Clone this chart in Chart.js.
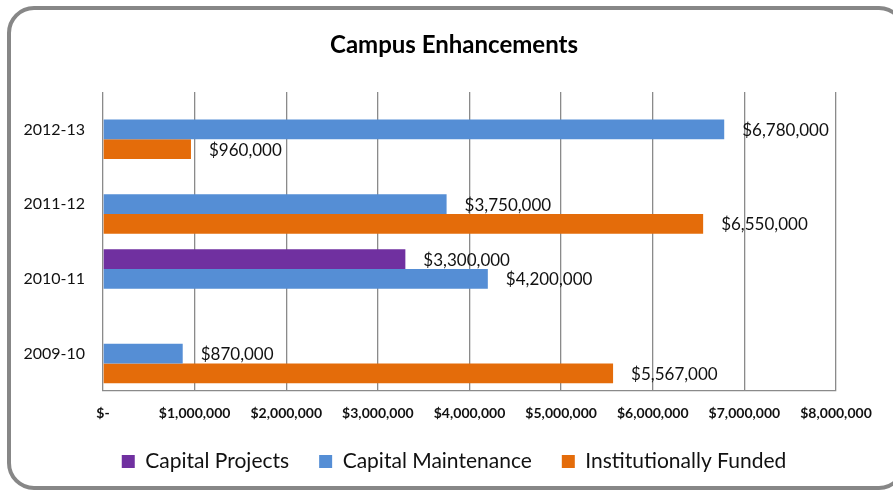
<!DOCTYPE html>
<html>
<head>
<meta charset="utf-8">
<title>Campus Enhancements</title>
<script src="https://cdn.jsdelivr.net/npm/chart.js@4/dist/chart.umd.min.js"></script>
<style>
  html, body { margin: 0; padding: 0; background: #fff; overflow: hidden; }
  #wrap { position: absolute; left: 0; top: 0; width: 910px; height: 495px; }
</style>
</head>
<body>
<div id="wrap"><canvas id="chart"></canvas></div>
<script>
// Funding by academic year
const years = ['2012-13', '2011-12', '2010-11', '2009-10'];
const capitalProjects = [null, null, 3300000, null];
const capitalMaintenance = [6780000, 3750000, 4200000, 870000];
const institutionallyFunded = [960000, 6550000, null, 5567000];

const axisMin = 0;
const axisMax = 8000000;
const axisStep = 1000000;

const FONT = 'Lato, "Open Sans", sans-serif';
const GRID = '#8a8a8a';

function money(v) {
    return v === 0 ? '$-' : '$' + v.toLocaleString('en-US');
}

// Rounded frame around the whole chart
const framePlugin = {
    id: 'frame',
    beforeDraw(chart) {
        const ctx = chart.ctx;
        ctx.save();
        ctx.strokeStyle = '#878787';
        ctx.lineWidth = 4;
        ctx.beginPath();
        ctx.roundRect(9, 8, 895, 480, 25);
        ctx.stroke();
        ctx.restore();
    }
};

// Value labels just past the end of each bar
const valueLabels = {
    id: 'valueLabels',
    afterDatasetsDraw(chart) {
        const ctx = chart.ctx;
        ctx.save();
        ctx.font = '17px ' + FONT;
        ctx.fillStyle = '#111';
        ctx.textAlign = 'left';
        ctx.textBaseline = 'middle';
        chart.data.datasets.forEach((ds, i) => {
            const meta = chart.getDatasetMeta(i);
            meta.data.forEach((bar, j) => {
                const v = ds.data[j];
                if (v === null || v === undefined) return;
                ctx.fillText(money(v), bar.x + 18, bar.y + 1);
            });
        });
        ctx.restore();
    }
};

new Chart(document.getElementById('chart'), {
    type: 'bar',
    data: {
        labels: years,
        datasets: [
            {
                label: 'Capital Projects',
                data: capitalProjects,
                backgroundColor: '#7030a0',
                borderWidth: 0
            },
            {
                label: 'Capital Maintenance',
                data: capitalMaintenance,
                backgroundColor: '#558ed5',
                borderWidth: 0
            },
            {
                label: 'Institutionally Funded',
                data: institutionallyFunded,
                backgroundColor: '#e46c0a',
                borderWidth: 0
            }
        ]
    },
    options: {
        indexAxis: 'y',
        responsive: true,
        maintainAspectRatio: false,
        animation: false,
        categoryPercentage: 0.79,
        barPercentage: 1.0,
        layout: {
            padding: { left: 3, right: 5, top: 0, bottom: 13 }
        },
        plugins: {
            title: {
                display: true,
                text: 'Campus Enhancements',
                color: '#000',
                font: { family: FONT, size: 24, weight: 'bold' },
                padding: { top: 30.6, bottom: 32.6 }
            },
            legend: {
                position: 'bottom',
                labels: {
                    boxWidth: 13,
                    boxHeight: 13,
                    padding: 30,
                    color: '#111',
                    font: { family: FONT, size: 21 }
                }
            },
            tooltip: { enabled: false }
        },
        scales: {
            x: {
                min: axisMin,
                max: axisMax,
                ticks: {
                    stepSize: axisStep,
                    padding: 14,
                    maxRotation: 0,
                    autoSkip: false,
                    color: '#111',
                    font: { family: FONT, size: 14, weight: 'bold' },
                    callback: v => money(v)
                },
                grid: {
                    color: GRID,
                    lineWidth: 1.3,
                    drawTicks: false
                },
                border: { display: true, color: GRID, width: 1.3 },
                afterFit(scale) { scale.height = 30; }
            },
            y: {
                ticks: {
                    padding: 18,
                    color: '#111',
                    font: { family: FONT, size: 16 }
                },
                grid: { display: false, drawTicks: false },
                border: { display: false },
                afterFit(scale) { scale.width = 100; }
            },
            // empty right-hand axis that only reserves space
            yRight: {
                type: 'category',
                position: 'right',
                ticks: { display: false },
                grid: { display: false, drawTicks: false },
                border: { display: false },
                afterFit(scale) { scale.width = 69; }
            }
        }
    },
    plugins: [framePlugin, valueLabels]
});
</script>
</body>
</html>
